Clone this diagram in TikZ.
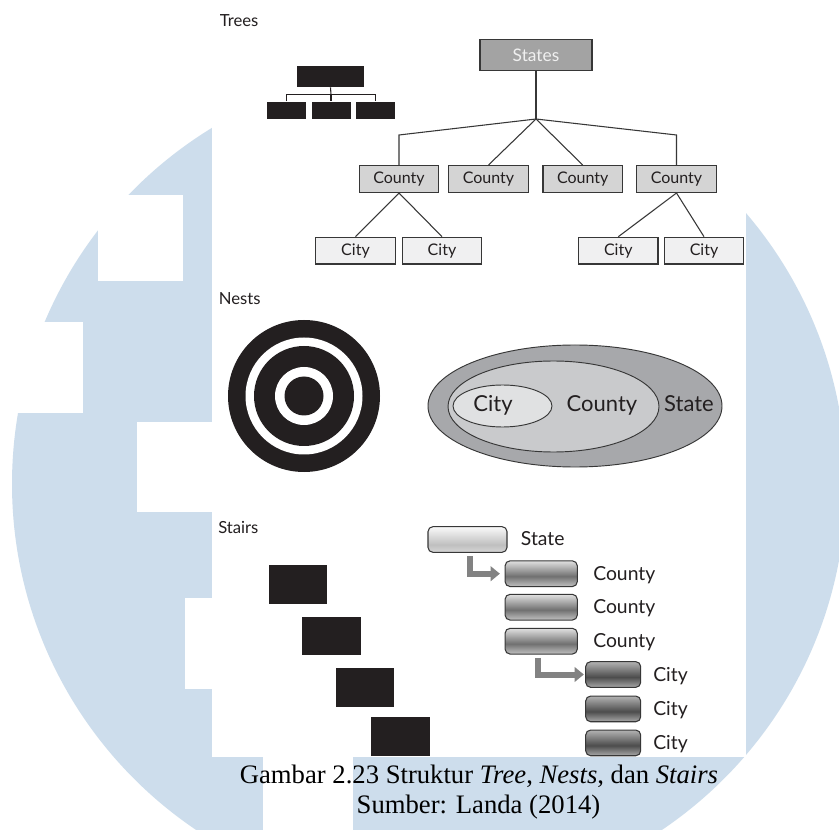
\documentclass[tikz,border=0pt]{standalone}
\usepackage{fontspec}
\setmainfont{Liberation Serif}
\newfontfamily\gillfont{Lato}
\usetikzlibrary{shapes,arrows.meta,positioning}

\definecolor{wmblue}{RGB}{205,221,236}
\definecolor{ink}{RGB}{35,31,32}
\definecolor{rim}{RGB}{55,55,55}
\definecolor{stategray}{RGB}{163,163,163}
\definecolor{countygray}{RGB}{212,212,212}
\definecolor{citygray}{RGB}{240,240,241}
\definecolor{stateoval}{RGB}{167,168,171}
\definecolor{countyoval}{RGB}{201,202,204}
\definecolor{cityoval}{RGB}{224,225,226}
\definecolor{arrowgray}{RGB}{130,130,130}

\pgfdeclareverticalshading{stategloss}{100bp}{color(0bp)=(black!16); color(25bp)=(black!16); color(40bp)=(black!25); color(75bp)=(black!2); color(100bp)=(black!2)}
\pgfdeclareverticalshading{countygloss}{100bp}{color(0bp)=(black!24); color(25bp)=(black!24); color(45bp)=(black!56); color(75bp)=(black!12); color(100bp)=(black!12)}
\pgfdeclareverticalshading{citygloss}{100bp}{color(0bp)=(black!34); color(25bp)=(black!34); color(45bp)=(black!70); color(75bp)=(black!30); color(100bp)=(black!30)}

\tikzstyle{heading} = [anchor=base west,inner sep=0,text=ink,font=\gillfont\fontsize{12.5}{15}\selectfont]
\tikzstyle{treebox} = [draw=rim,line width=1pt,rectangle,inner sep=0,minimum height=20pt,minimum width=59.6pt,text=ink,font=\gillfont\fontsize{12}{14}\selectfont]
\tikzstyle{link} = [-,line width=0.8pt,color=rim]
\tikzstyle{solidblock} = [fill=ink,rectangle,inner sep=0]
\tikzstyle{oval} = [draw=rim,line width=0.7pt]
\tikzstyle{nestlabel} = [anchor=base,inner sep=0,text=ink,font=\gillfont\fontsize{16.5}{19}\selectfont]
\tikzstyle{pill} = [draw=rim,line width=0.8pt,rectangle,rounded corners=3.75pt,inner sep=0,minimum height=19.3pt]
\tikzstyle{statepill} = [pill,minimum width=59.25pt,shading=stategloss]
\tikzstyle{countypill} = [pill,minimum width=54.2pt,shading=countygloss]
\tikzstyle{citypill} = [pill,minimum width=41.25pt,shading=citygloss]
\tikzstyle{stairlabel} = [anchor=base west,inner sep=0,text=ink,font=\gillfont\fontsize{14.5}{17}\selectfont]
\tikzstyle{flow} = [line width=4.5pt,color=arrowgray,-{Triangle[length=7pt,width=11pt]}]
\tikzstyle{captiontext} = [anchor=base,inner sep=0,font=\fontsize{20}{24}\selectfont]
\def \px {0.75pt}

\begin{document}
\begin{tikzpicture}[x=\px,y=-\px]
      \useasboundingbox (0,0) rectangle (839,830);
      \fill[white] (0,0) rectangle (839,830);
      \begin{scope}
        \clip (0,0) rectangle (839,830);
        \fill[wmblue] (429,484) circle [radius=417];
      \end{scope}
      \fill[white] (98,195) rectangle (183,281);
      \fill[white] (0,322) rectangle (83,413);
      \fill[white] (137,422) rectangle (212,512);
      \fill[white] (185,598) rectangle (212,689);
      \fill[white] (212,0) rectangle (746,757);
      \fill[white] (263,757) rectangle (353,830);

      \node[heading] (trees) at (219.6,26.5) {Trees};
      \node[solidblock,minimum width=50.25pt,minimum height=16pt] (it) at (330.5,76.5) {};
      \node[solidblock,minimum width=29.25pt,minimum height=12.75pt] (ib1) at (286.5,110.2) {};
      \node[solidblock,minimum width=29.25pt,minimum height=12.75pt] (ib2) at (331,110.2) {};
      \node[solidblock,minimum width=29.25pt,minimum height=12.75pt] (ib3) at (375.5,110.2) {};
      \coordinate (hub) at (331,94.3);
      \draw[link,color=ink] (it.south) -- (hub);
      \draw[link,color=ink] (ib1.north) |- (hub) -| (ib3.north);
      \draw[link,color=ink] (hub) -- (ib2.north);

      \node[treebox,fill=stategray,text=white!94!black,minimum width=84pt,minimum height=23.5pt,font=\gillfont\fontsize{13}{15}\selectfont] (st) at (536,55) {States};
      \node[treebox,fill=countygray] (c1) at (399,179) {County};
      \node[treebox,fill=countygray] (c2) at (488.5,179) {County};
      \node[treebox,fill=countygray] (c3) at (582.7,179) {County};
      \node[treebox,fill=countygray] (c4) at (676.5,179) {County};
      \node[treebox,fill=citygray] (ct1) at (355.5,250.7) {City};
      \node[treebox,fill=citygray] (ct2) at (442,250.7) {City};
      \node[treebox,fill=citygray] (ct3) at (618.3,250.7) {City};
      \node[treebox,fill=citygray] (ct4) at (704,250.7) {City};
      \coordinate (j) at (536,119);
      \draw[link] (st.south) -- (j);
      \draw[link] (j) -- (c1.north |- 0,135) -- (c1.north);
      \draw[link] (j) -- (c2.north);
      \draw[link] (j) -- (c3.north);
      \draw[link] (j) -- (c4.north |- 0,135) -- (c4.north);
      \draw[link] (c1.south) -- (ct1.north);
      \draw[link] (c1.south) -- (ct2.north);
      \draw[link] (c4.south) -- (ct3.north);
      \draw[link] (c4.south) -- (ct4.north);

      \node[heading] (nests) at (218.6,305) {Nests};
      \fill[ink] (304,396) circle [radius=76];
      \fill[white] (304,396) circle [radius=58.5];
      \fill[ink] (304,396) circle [radius=50];
      \fill[white] (304,396) circle [radius=29];
      \fill[ink] (304,396) circle [radius=19.5];
      \draw[oval,fill=stateoval] (575,406) ellipse [x radius=147,y radius=61];
      \draw[oval,fill=countyoval] (553.5,406.5) ellipse [x radius=105.5,y radius=45.5];
      \draw[oval,fill=cityoval] (502.5,406) ellipse [x radius=49.5,y radius=21];
      \node[nestlabel] (lcity) at (493,412) {City};
      \node[nestlabel] (lcounty) at (602,412) {County};
      \node[nestlabel] (lstate) at (689,412) {State};

      \node[heading] (stairs) at (218,533) {Stairs};
      \node[solidblock,minimum width=43.7pt,minimum height=29.2pt] (b1) at (298.3,584.5) {};
      \node[solidblock,minimum width=43.7pt,minimum height=29.2pt] (b2) at (331.6,636) {};
      \node[solidblock,minimum width=43.7pt,minimum height=29.2pt] (b3) at (364.7,687.8) {};
      \node[solidblock,minimum width=43.7pt,minimum height=29.2pt] (b4) at (400.5,736.7) {};

      \node[statepill] (s0) at (467.5,539.5) {};
      \node[countypill] (s1) at (541.2,573.7) {};
      \node[countypill] (s2) at (541.2,607.2) {};
      \node[countypill] (s3) at (541.2,641.2) {};
      \node[citypill] (s4) at (613.2,674.5) {};
      \node[citypill] (s5) at (613.2,708.9) {};
      \node[citypill] (s6) at (613.2,742.9) {};
      \node[stairlabel] (l0) at (520.7,545.7) {State};
      \node[stairlabel] (l1) at (593,580) {County};
      \node[stairlabel] (l2) at (593,613.7) {County};
      \node[stairlabel] (l3) at (593,647.4) {County};
      \node[stairlabel] (l4) at (653,681.7) {City};
      \node[stairlabel] (l5) at (653,715.5) {City};
      \node[stairlabel] (l6) at (653,749) {City};
      \draw[flow] ([xshift=1.9pt,yshift=-2.5pt]s0.south) |- ([xshift=-3.5pt]s1.west);
      \draw[flow] ([xshift=-2.2pt,yshift=-2.5pt]s3.south) |- ([xshift=-1pt]s4.west);

      \node[captiontext] (cap) at (479,783) {Gambar 2.23 Struktur \textit{Tree}, \textit{Nests}, dan \textit{Stairs}};
      \node[captiontext] (src) at (478.5,813) {Sumber: Landa (2014)};
    \end{tikzpicture}
\end{document}
